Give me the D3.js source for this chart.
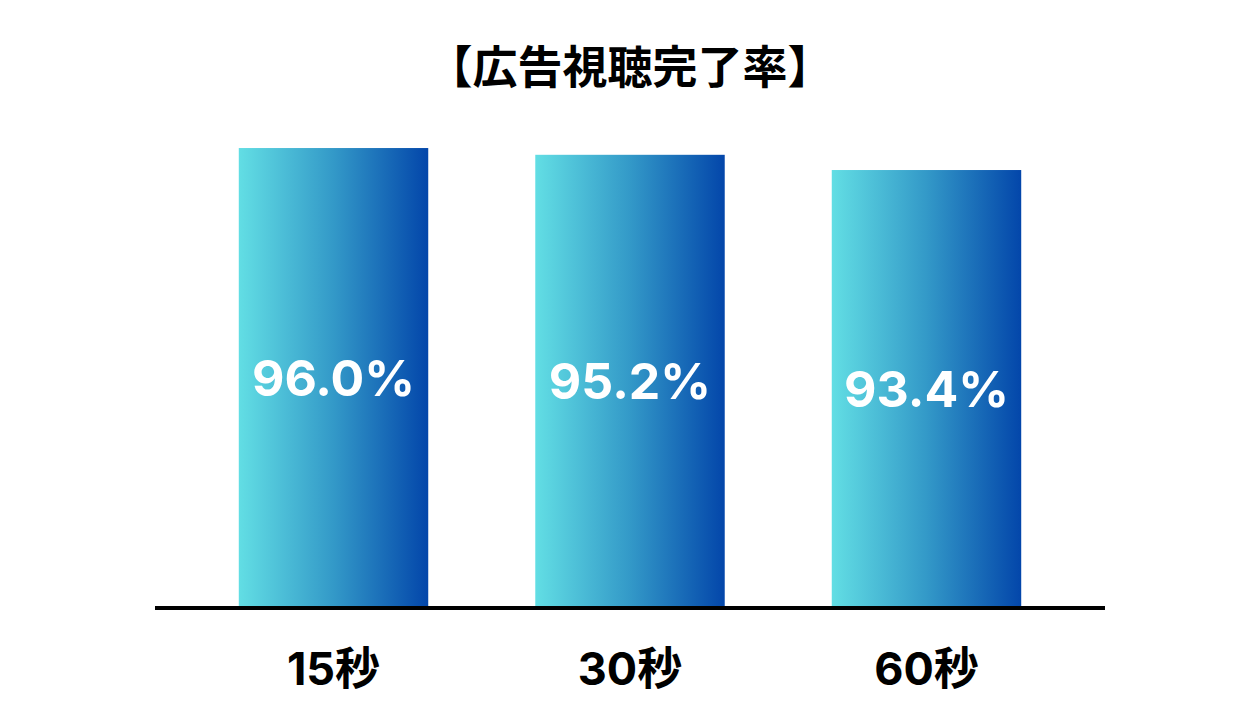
<!DOCTYPE html>
<html>
<head>
<meta charset="utf-8">
<script src="https://cdn.jsdelivr.net/npm/d3@7"></script>
<style>
  html, body { margin: 0; padding: 0; background: #fff; }
  svg { display: block; }
</style>
</head>
<body>
<svg id="chart" width="1260" height="720"></svg>
<script>
const title = "【広告視聴完了率】";
const categories = ["15秒", "30秒", "60秒"];
const values = [96.0, 95.2, 93.4];
const valueLabels = ["96.0%", "95.2%", "93.4%"];

const W = 1260, H = 720;
const svg = d3.select("#chart");

const x = d3.scaleBand().domain(categories).range([155, 1105]).paddingInner(0.361).paddingOuter(0.2826);
const y = d3.scaleLinear().domain([41.86, 100]).range([606, 114.2]);

const defs = svg.append("defs");
const grad = defs.append("linearGradient").attr("id", "barGrad")
  .attr("x1", "0%").attr("x2", "100%").attr("y1", "0%").attr("y2", "0%");
grad.append("stop").attr("offset", "0%").attr("stop-color", "#62dee4");
grad.append("stop").attr("offset", "50%").attr("stop-color", "#3399c8");
grad.append("stop").attr("offset", "100%").attr("stop-color", "#0346aa");

svg.append("text")
  .attr("x", W / 2).attr("y", 84)
  .attr("text-anchor", "middle")
  .style("font-family", "'Noto Sans CJK JP', sans-serif")
  .style("font-weight", "700")
  .style("font-size", "45px")
  .attr("fill", "#000")
  .text(title);

const g = svg.append("g");
g.selectAll("rect.bar").data(values).join("rect")
  .attr("class", "bar")
  .attr("x", (d, i) => x(categories[i]))
  .attr("width", x.bandwidth())
  .attr("y", d => y(d))
  .attr("height", d => y.range()[0] - y(d))
  .attr("fill", "url(#barGrad)");

g.selectAll("text.val").data(values).join("text")
  .attr("class", "val")
  .attr("x", (d, i) => x(categories[i]) + x.bandwidth() / 2)
  .attr("y", d => (y(d) + y.range()[0]) / 2 + 19)
  .attr("text-anchor", "middle")
  .style("font-family", "Inter, 'Open Sans', sans-serif")
  .style("font-weight", "700")
  .style("font-size", "50px")
  .attr("fill", "#fff")
  .text((d, i) => valueLabels[i]);

const xAxis = d3.axisBottom(x).tickSize(0).tickPadding(0);
const ax = svg.append("g").attr("transform", "translate(0,608)").call(xAxis);
ax.select(".domain").attr("stroke", "#000").attr("stroke-width", 4)
  .attr("d", "M155,0H1105");
ax.selectAll(".tick text")
  .attr("y", 77)
  .attr("dy", 0)
  .style("font-family", "Inter, 'Noto Sans CJK JP', sans-serif")
  .style("font-weight", "700")
  .style("font-size", "45px")
  .attr("fill", "#000");
</script>
</body>
</html>
